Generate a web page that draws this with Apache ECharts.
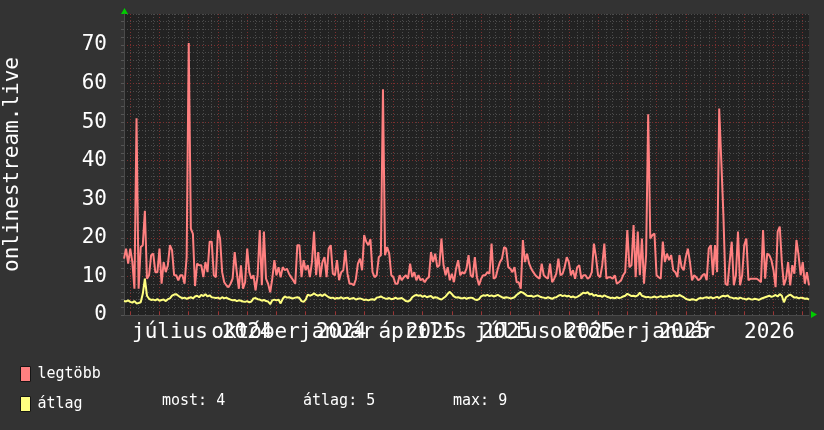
<!DOCTYPE html>
<html>
<head>
<meta charset="utf-8">
<script src="https://cdn.jsdelivr.net/npm/echarts@6/dist/echarts.min.js"></script>
<style>html,body{margin:0;padding:0;background:#333333;}#c{width:824px;height:430px;}</style>
</head>
<body>
<div id="c"></div>
<script>
// "legtöbb" (maximum) series
const legtobb = [
14.6,17.2,13.3,17.2,13.7,6.8,51,6.8,17.6,18.1,
27,9.4,10.3,15.5,15.9,11.1,11.1,17.2,8.1,13.7,
11.1,12.9,18.1,16.8,10.3,10.3,9.0,10.3,10.3,8.1,
15.0,70.5,22.4,21,7.5,13.3,12.9,12.9,9.8,13.7,
11.1,19,19,10.3,9.8,22,19.8,11.1,8.5,7.7,
7.2,8.1,9.4,16.3,11.1,6.8,12.9,6.8,8.5,17.2,
11.1,9.4,10.3,6.4,10.3,22,7.7,21.6,9.4,8.1,
5.9,9.4,14.2,10.3,12.4,9.8,12.4,11.6,12,10.7,
9.8,9,8.1,18.1,18.1,9.8,14.2,11.6,12.9,9.8,
13.7,21.6,10.3,16.3,9.8,13.7,15,9.8,17.2,18.1,
10.7,10.3,14.2,9,11.1,11.6,16.8,10.7,8.1,8.1,
7.7,9.2,13.3,14.6,11.6,20.7,19,18.1,19.6,11.1,
9.8,10.3,15,15.5,58.5,15.5,17.6,15.9,10.3,9.8,
8.1,8.1,10.3,9.0,9.8,10.3,9.4,13.3,9.8,11.1,
9,10.3,9,9.4,8.5,9.4,9.8,16.3,13.7,15.9,
12.4,12.9,19.8,12.9,10.3,12.4,9,10.7,8.5,12,
14.2,10.3,11.1,10.7,12,15.5,10.3,9.8,
15.0,9.8,7.7,9.4,10.3,10.3,11.1,10.7,18.5,9.4,
9.8,12,13.7,14.6,17.6,17.2,12.4,12,11.1,12.4,
8.5,8.5,6.8,19.4,13.7,15.9,13.3,12,11.1,10.3,
9.8,9.4,13.3,10.3,9.8,9.4,13.3,8.5,9.4,10.7,
14.6,10.3,10.7,12.4,15,13.7,10.3,11.6,9.4,12.4,
12.9,9.4,10.3,10.3,9.4,9.8,11.1,18.5,15,10.3,
9.8,12.9,18.5,9.4,9.8,9.8,9.4,10.3,8.1,8.5,
9,10.3,11.1,22,12.4,12.9,23.3,9.8,21.6,10.3,
19.8,8.1,15.5,52,19.8,20.7,21.1,10.3,9.8,9.4,
19,13.7,15.9,14.2,15.5,11.6,11.1,9.8,15.5,12.4,
11.6,15,17.2,13.7,9,10.3,9.8,9,9.4,10.3,
10.7,9,17.2,18.1,10.3,18.1,11.1,53.5,40,26,
8.1,7.7,13.7,19,7.7,10.3,21.6,7.7,10.3,18.1,
19.8,9,9.4,9.4,9.4,9.4,9,8.5,22,9.4,
15.9,15.5,14.2,11.6,7.2,21.6,22.9,13.7,7.7,9.4,
13.7,7.7,12.9,10.7,19.4,15.5,10.3,13.7,8.1,11.1,
7.7
];
// "átlag" (average) series
const atlag = [
3.6,3.5,3.8,3.4,3.2,3.6,3.0,3.1,
3.3,5.5,9.4,
5.0,4.2,3.9,
4.0,3.8,4.1,3.7,3.9,4.0,3.6,4.1,4.3,
5.0,5.3,5.4,5.0,4.6,
4.3,4.5,4.2,4.4,4.6,4.3,4.8,5.0,4.6,
5.2,4.9,5.4,4.8,5.1,4.6,4.5,
4.4,4.5,4.2,4.6,4.3,4.5,4.2,
4.0,3.8,3.9,3.6,3.8,3.7,3.5,3.4,3.6,3.3,
3.5,4.3,4.4,4.1,4.0,3.7,3.9,3.6,3.5,2.8,3.8,4.0,
3.8,4.0,3.0,4.2,4.8,4.5,4.6,4.4,4.3,4.5,4.6,4.4,
3.6,3.4,4.0,5.3,5.0,5.2,5.6,5.2,5.0,5.3,
4.9,5.4,5.0,4.6,4.4,4.5,4.2,4.4,4.3,4.6,4.2,4.4,4.5,4.1,4.3,4.4,4.0,4.2,4.3,
4.1,3.9,4.0,3.8,4.0,4.1,3.9,4.5,4.6,
4.8,4.5,4.3,4.2,4.4,4.1,4.2,4.5,4.2,4.3,
4.4,4.0,3.6,3.5,3.8,
4.6,5.0,5.2,5.0,5.1,4.7,5.0,4.6,4.8,4.9,4.4,4.6,4.5,4.2,
4.0,4.4,4.8,5.5,6.0,5.4,4.8,4.5,4.6,4.4,4.3,4.5,4.2,4.4,
4.5,4.4,4.0,3.9,4.1,
4.8,5.1,5.0,5.2,4.9,5.1,4.8,5.0,5.2,4.9,
4.6,4.4,4.6,4.5,4.3,4.4,4.6,
5.2,5.6,6.0,5.8,5.4,5.0,
4.9,5.0,4.7,4.9,5.1,4.8,4.6,
4.5,4.3,4.6,4.4,4.2,4.5,4.6,
5.0,5.2,4.9,5.1,4.8,5.0,
4.6,4.8,4.5,4.7,5.0,5.4,
5.8,5.6,5.9,5.3,5.5,5.0,5.2,
4.9,5.0,4.7,5.1,4.8,4.6,4.4,
4.5,4.3,4.6,4.4,4.5,4.8,5.0,
5.5,5.2,4.9,5.0,4.8,5.1,
5.8,5.0,4.8,4.6,4.7,4.5,
4.6,4.8,4.5,4.7,4.9,4.6,4.8,4.7,
5.0,4.8,5.1,5.0,4.9,5.2,
4.9,4.6,4.2,4.0,3.9,4.1,
4.0,3.8,4.2,4.4,4.3,4.5,4.6,
4.4,4.6,4.3,4.5,4.7,4.4,
4.8,5.0,4.8,5.1,4.6,4.5,4.3,
4.4,4.2,4.5,4.3,4.2,4.0,4.3,4.1,
4.0,4.2,4.1,3.9,4.2,4.4,
4.6,4.8,5.0,4.7,4.9,5.2,4.8,
5.4,5.0,3.3,4.6,5.0,5.3,4.9,
4.5,4.6,4.3,4.5,4.4,4.2,4.3,4.0
];
const categories = legtobb.map((_, i) => String(i));
const monthLabels = ['július','október','január','április','július','október','január','április'];
const monthIdx = [22, 63, 102, 143, 186, 225, 265, 304];
const yearLabels = ['2024','2024','2025','2025','2025','2025','2026'];
const yearIdx = [59, 104, 147, 183, 223, 268, 309];
const yTitle = 'onlinestream.live';
const seriesNames = ['legtöbb', 'átlag'];
const statLabels = ['most: 4', 'átlag: 5', 'max: 9'];

const FONT = '"DejaVu Sans Mono", monospace';
const RED = '#ff8080', YEL = '#ffff80';
const GRID_RED = '#7c2f2f', GRID_GRAY = '#4c4c4c';

function gridFn(i) {
  if (i < 3) return false;
  const r = (i - 3) % 14;
  return r === 0 || r === 4 || r === 7 || r === 11;
}
function majorFn(i) { return i >= 3 && (i - 3) % 14 === 0; }

const chart = echarts.init(document.getElementById('c'), null, {renderer: 'canvas'});
const statLefts = [162, 303, 453];
chart.setOption({
  backgroundColor: '#333333',
  animation: false,
  grid: {left: 124, right: 15, top: 14, bottom: 115, show: true, backgroundColor: '#222222', borderWidth: 0,
         containLabel: false, outerBoundsMode: 'none'},
  title: statLabels.map((t, k) => ({
    text: t, left: statLefts[k], top: 392, padding: 0,
    textStyle: {color: '#ffffff', fontFamily: FONT, fontSize: 15, fontWeight: 'normal', lineHeight: 18}
  })),
  legend: {
    data: seriesNames, orient: 'vertical', left: 20, top: 366, padding: 0,
    itemWidth: 10, itemHeight: 15, itemGap: 14, icon: 'rect',
    itemStyle: {borderColor: '#151515', borderWidth: 1},
    textStyle: {color: '#ffffff', fontFamily: FONT, fontSize: 15, lineHeight: 15, padding: [0, 0, 0, 2]},
    selectedMode: false
  },
  xAxis: [{
    type: 'category', data: categories, boundaryGap: false, position: 'bottom',
    axisLine: {show: true, lineStyle: {color: '#4a4a4a', width: 1}},
    axisTick: {show: true, inside: true, length: 3, interval: (i) => majorFn(i), lineStyle: {color: '#9a3535'}},
    axisLabel: {
      interval: (i) => monthIdx.includes(i),
      formatter: (v, i) => { const k = monthIdx.indexOf(Number(v)); return k >= 0 ? monthLabels[k] : ''; },
      color: '#ffffff', fontFamily: FONT, fontSize: 21, margin: 7
    },
    splitLine: {show: true, interval: (i) => gridFn(i), lineStyle: {color: [GRID_RED, GRID_GRAY, GRID_GRAY, GRID_GRAY], type: [1, 2], width: 1}}
  }, {
    type: 'category', data: categories, boundaryGap: false, position: 'bottom',
    axisLine: {show: false}, axisTick: {show: false}, splitLine: {show: false},
    axisLabel: {
      interval: (i) => yearIdx.includes(i),
      formatter: (v, i) => { const k = yearIdx.indexOf(Number(v)); return k >= 0 ? yearLabels[k] : ''; },
      color: '#ffffff', fontFamily: FONT, fontSize: 21, margin: 7
    }
  }],
  yAxis: {
    type: 'value', min: 0, max: 78, interval: 2,
    name: yTitle, nameLocation: 'middle', nameGap: 101,
    nameTextStyle: {color: '#ffffff', fontFamily: FONT, fontSize: 21},
    axisLine: {show: true, lineStyle: {color: '#4a4a4a'}},
    axisTick: {show: true, length: 3, lineStyle: {color: '#555555'}},
    axisLabel: {
      formatter: (v) => (v % 10 === 0 ? String(v) : ''),
      showMaxLabel: false,
      color: '#ffffff', fontFamily: FONT, fontSize: 21, margin: 17
    },
    splitLine: {show: true, lineStyle: {color: [GRID_RED, GRID_GRAY, GRID_GRAY, GRID_GRAY, GRID_GRAY], type: [1, 2], width: 1}}
  },
  series: [{
    name: seriesNames[0], type: 'line', data: legtobb, xAxisIndex: 0, symbol: 'none',
    color: RED, lineStyle: {color: RED, width: 2}, z: 3
  }, {
    name: seriesNames[1], type: 'line', data: atlag, xAxisIndex: 0, symbol: 'none',
    color: YEL, lineStyle: {color: YEL, width: 2}, z: 4
  }],
  graphic: [
    {type: 'polygon', shape: {points: [[121, 14], [128, 14], [124.5, 8]]}, style: {fill: '#00cc00'}, silent: true},
    {type: 'polygon', shape: {points: [[811, 311], [811, 318], [817, 314.5]]}, style: {fill: '#00cc00'}, silent: true}
  ]
});
</script>
</body>
</html>
